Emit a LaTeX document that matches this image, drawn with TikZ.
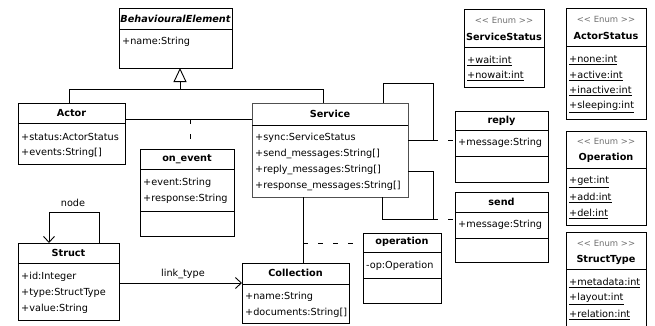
\documentclass[tikz,border=0pt]{standalone}
\usepackage{fontspec}
\setmainfont{DejaVu Sans}
\usepackage{tikz}
\usetikzlibrary{arrows.meta,positioning}
\usepackage{xcolor}
\definecolor{umlblack}{RGB}{0,0,0}
\definecolor{umlgray}{RGB}{110,110,110}
\definecolor{umldark}{RGB}{80,80,80}
\tikzstyle{umlbox} = [rectangle, draw=umlblack, line width=0.9pt, anchor=north west, inner sep=0pt, outer sep=0pt]
\tikzstyle{umltitle} = [font=\fontsize{9.7}{11}\selectfont\bfseries, inner sep=0pt]
\tikzstyle{umlattr} = [font=\fontsize{9.7}{11}\selectfont, anchor=west, inner sep=0pt]
\tikzstyle{umllabel} = [font=\fontsize{9.7}{11}\selectfont, inner sep=0pt]
\tikzstyle{umlstereo} = [font=\fontsize{8.5}{10}\selectfont, color=umlgray, inner sep=0pt]
\tikzstyle{umlsep} = [line width=0.9pt, umlblack]
\tikzstyle{assoc} = [line width=0.9pt, umlblack]
\tikzstyle{assocclass} = [line width=0.9pt, umlblack, dash pattern=on 5pt off 10pt]
\tikzstyle{navarrow} = [line width=0.9pt, umlblack, -{Straight Barb[length=6pt,width=11pt]}]
\tikzstyle{genarrow} = [line width=0.9pt, umlblack, -{Triangle[open,length=14pt,width=13pt]}]

\begin{document}
\begin{tikzpicture}[x=1pt, y=-1pt]
\useasboundingbox (0,0) rectangle (655,325);

% Class boxes
\node[umlbox, minimum width=113, minimum height=60] (behav) at (119,8) {};
\node[umlbox, minimum width=107, minimum height=61] (actor) at (18,103) {};
\node[umlbox, draw=umldark, minimum width=156, minimum height=94] (service) at (252,103) {};
\node[umlbox, minimum width=94, minimum height=87] (onevent) at (140,149) {};
\node[umlbox, minimum width=93, minimum height=71] (reply) at (455,111) {};
\node[umlbox, minimum width=93, minimum height=70] (send) at (455,192) {};
\node[umlbox, minimum width=78, minimum height=70] (operation) at (363,233) {};
\node[umlbox, minimum width=107, minimum height=60] (collection) at (242,263) {};
\node[umlbox, minimum width=101, minimum height=77] (struct) at (18,243) {};

% Enum boxes
\node[umlbox, minimum width=80, minimum height=78] (svcstatus) at (464,9) {};
\node[umlbox, minimum width=80, minimum height=111] (actstatus) at (566,8) {};
\node[umlbox, minimum width=80, minimum height=94] (openum) at (566,131) {};
\node[umlbox, minimum width=80, minimum height=96] (stype) at (566,232) {};

% Compartment lines
\foreach \b/\y in {behav/29, actor/123, service/125, onevent/169, onevent/211,
    reply/130, reply/156, send/212, send/238, operation/252, operation/278,
    collection/284, struct/263, svcstatus/47, actstatus/46, openum/168, stype/269}
    \draw[umlsep] (\b.west |- 0,\y) -- (\b.east |- 0,\y);

% Class names
\node[umltitle] (behav-t) at (behav.north |- 0,19) {\itshape BehaviouralElement};
\node[umltitle] (actor-t) at (actor.north |- 0,113) {Actor};
\node[umltitle] (service-t) at (service.north |- 0,114) {Service};
\node[umltitle] (onevent-t) at (onevent.north |- 0,159) {on\_event};
\node[umltitle] (reply-t) at (reply.north |- 0,121) {reply};
\node[umltitle] (send-t) at (send.north |- 0,202) {send};
\node[umltitle] (operation-t) at (operation.north |- 0,242) {operation};
\node[umltitle] (collection-t) at (collection.north |- 0,273) {Collection};
\node[umltitle] (struct-t) at (struct.north |- 0,253) {Struct};

% Enum names
\foreach \b/\n/\y in {svcstatus/ServiceStatus/20, actstatus/ActorStatus/19,
    openum/Operation/141, stype/StructType/243} {
    \node[umlstereo] (\b-s) at (\b.north |- 0,\y) {<\kern0pt< Enum >\kern0pt>};
    \node[umltitle] (\b-t) at (\b.north |- 0,\y+17) {\n};
}

% Attributes
\node[umlattr] (behav-a0) at (122,42) {+name:String};
\foreach \t [count=\i from 0] in {+status:ActorStatus, {+events:String[]}}
    \node[umlattr] (actor-a\i) at (21,137+16*\i) {\t};
\foreach \t [count=\i from 0] in {+sync:ServiceStatus, {+send\_messages:String[]},
    {+reply\_messages:String[]}, {+response\_messages:String[]}}
    \node[umlattr] (service-a\i) at (255,138+16*\i) {\t};
\foreach \t [count=\i from 0] in {+event:String, +response:String}
    \node[umlattr] (onevent-a\i) at (143,183+16*\i) {\t};
\node[umlattr] (reply-a0) at (458,143) {+message:String};
\node[umlattr] (send-a0) at (458,225) {+message:String};
\node[umlattr] (operation-a0) at (366,266) {-op:Operation};
\foreach \t [count=\i from 0] in {+name:String, {+documents:String[]}}
    \node[umlattr] (collection-a\i) at (245,297+16*\i) {\t};
\foreach \t [count=\i from 0] in {+id:Integer, +type:StructType, +value:String}
    \node[umlattr] (struct-a\i) at (21,277+16*\i) {\t};

% Enum literals
\foreach \t [count=\i from 0] in {+wait:int, +nowait:int}
    \node[umlattr] (svcstatus-a\i) at (467,61+15*\i) {\underline{\t}};
\foreach \t [count=\i from 0] in {+none:int, +active:int, +inactive:int, +sleeping:int}
    \node[umlattr] (actstatus-a\i) at (569,60+15.6*\i) {\underline{\t}};
\foreach \t [count=\i from 0] in {+get:int, +add:int, +del:int}
    \node[umlattr] (openum-a\i) at (569,182+16*\i) {\underline{\t}};
\foreach \t [count=\i from 0] in {+metadata:int, +layout:int, +relation:int}
    \node[umlattr] (stype-a\i) at (569,283+16*\i) {\underline{\t}};

% Generalization
\coordinate (genmid) at (180,89);
\coordinate (genL) at (69,89);
\coordinate (genR) at (323,89);
\draw[genarrow] (genmid) -- (genmid |- behav.south);
\draw[assoc] (genL |- actor.north) -- (genL) -- (genR) -- (genR |- service.north);

% Actor -- Service, class on_event
\coordinate (evmid) at (190,119);
\draw[assoc] (actor.east |- evmid) -- (service.west |- evmid);
\draw[assocclass] (evmid) -- (evmid |- onevent.north);

% Service self links, classes reply and send
\coordinate (rtop) at (383,83);
\coordinate (rmid) at (433,140);
\draw[assoc] (rtop |- service.north) -- (rtop) -| (rmid) -- (rmid -| service.east);
\draw[assocclass] (rmid) -- (rmid -| reply.west);
\coordinate (sside) at (433,171);
\coordinate (smid) at (433,219);
\coordinate (sbot) at (382,219);
\draw[assoc] (sside -| service.east) -- (sside) -- (smid) -- (sbot) -- (sbot |- service.south);
\draw[assocclass] (smid) -- (smid -| send.west);

% Service -- Collection, class operation
\coordinate (cmid) at (303,243);
\draw[assoc] (cmid |- service.south) -- (cmid |- collection.north);
\draw[assocclass] (cmid) -- (cmid -| operation.west);

% Struct links
\coordinate (loopL) at (49,212);
\coordinate (loopR) at (99,212);
\draw[navarrow] (loopR |- struct.north) -- (loopR) -- (loopL) -- (loopL |- struct.north);
\node[umllabel] (node-l) at (73,203) {node};
\coordinate (lnk) at (183,283);
\draw[navarrow] (struct.east |- lnk) -- (collection.west |- lnk);
\node[umllabel] (link-l) at (183,274) {link\_type};
\end{tikzpicture}
\end{document}
